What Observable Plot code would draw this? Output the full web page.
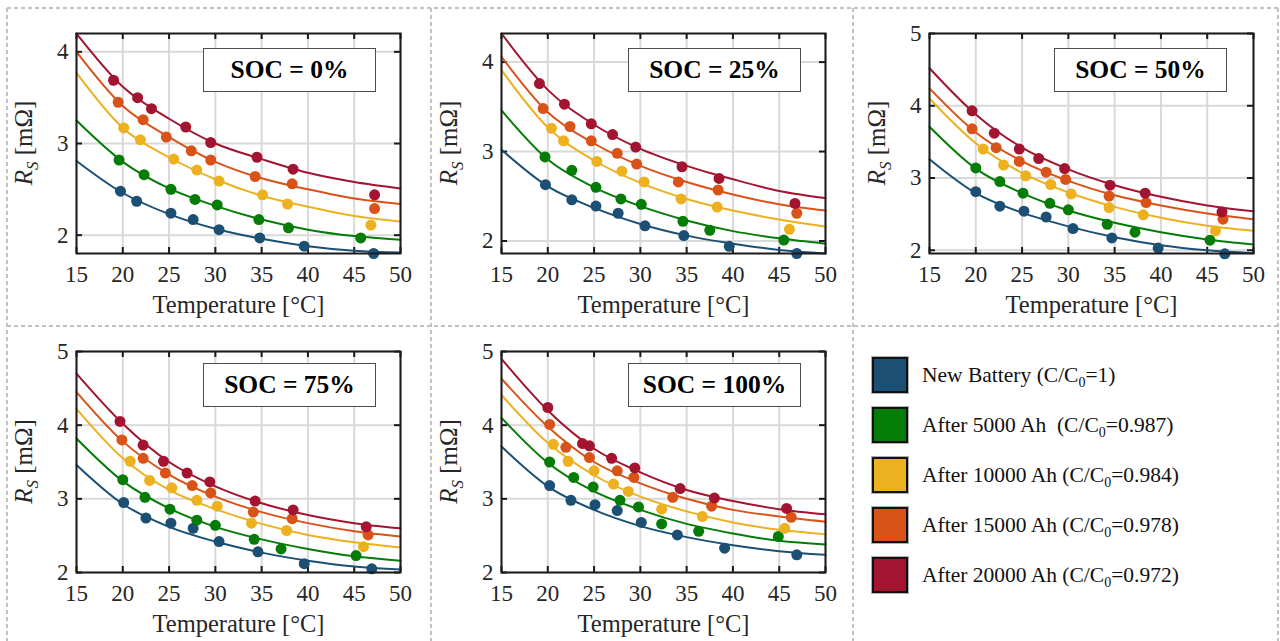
<!DOCTYPE html>
<html><head><meta charset="utf-8">
<script src="https://cdn.jsdelivr.net/npm/d3@7"></script>
<script src="https://cdn.jsdelivr.net/npm/@observablehq/plot@0.6"></script>
<style>
body{margin:0;background:#fff;}
#root{position:relative;width:1280px;height:641px;overflow:hidden;background:#fff;font-family:"Liberation Serif","Times New Roman",serif;}
.panel{position:absolute;}
.soc{position:absolute;width:173px;height:44px;border:1.5px solid #4d4d4d;background:#fff;box-sizing:border-box;font-weight:bold;font-size:25.5px;display:flex;align-items:center;justify-content:center;color:#000;font-family:"Liberation Serif",serif;}
.sw{position:absolute;width:36px;height:36px;box-sizing:border-box;border:2.5px solid #111;outline:1px solid #b0b0b0;}
.lt{position:absolute;height:36px;line-height:36px;font-size:21.5px;color:#111;white-space:pre;font-family:"Liberation Serif",serif;}
.lt .sb{font-size:14px;position:relative;top:5px;}
</style></head>
<body><div id="root"></div>
<script>
// ---------- data ----------
const series = ["New Battery (C/C0=1)", "After 5000 Ah  (C/C0=0.987)", "After 10000 Ah (C/C0=0.984)", "After 15000 Ah (C/C0=0.978)", "After 20000 Ah (C/C0=0.972)"];
const seriesColors = ["#1b5074", "#047c05", "#edb120", "#d95319", "#a2142f"];
const xTicks = [15, 20, 25, 30, 35, 40, 45, 50];
const fitT = [15, 20, 25, 30, 35, 40, 45, 50];
const socTitles = ["SOC = 0%", "SOC = 25%", "SOC = 50%", "SOC = 75%", "SOC = 100%"];

// SOC = 0%
const soc0_T = [
  [19.75, 21.5, 25.2, 27.6, 30.4, 34.8, 39.6, 47.1],
  [19.6, 22.3, 25.2, 27.8, 30.2, 34.7, 37.9, 45.7],
  [20.1, 21.9, 25.5, 28.0, 30.4, 35.1, 37.8, 46.8],
  [19.5, 22.2, 24.7, 27.4, 29.5, 34.3, 38.3, 47.2],
  [19.0, 21.6, 23.1, 26.8, 29.5, 34.5, 38.4, 47.2]];
const soc0_R = [
  [2.48, 2.37, 2.24, 2.17, 2.06, 1.97, 1.88, 1.80],
  [2.82, 2.66, 2.50, 2.39, 2.33, 2.17, 2.08, 1.97],
  [3.17, 3.04, 2.83, 2.71, 2.59, 2.44, 2.34, 2.11],
  [3.45, 3.26, 3.07, 2.92, 2.82, 2.64, 2.56, 2.29],
  [3.69, 3.50, 3.38, 3.18, 3.01, 2.85, 2.72, 2.44]];
const soc0_fit = [
  [2.81, 2.46, 2.23, 2.07, 1.96, 1.88, 1.83, 1.81],
  [3.25, 2.80, 2.51, 2.32, 2.17, 2.06, 1.99, 1.95],
  [3.77, 3.17, 2.85, 2.61, 2.43, 2.31, 2.21, 2.15],
  [4.00, 3.41, 3.07, 2.80, 2.62, 2.50, 2.40, 2.34],
  [4.20, 3.62, 3.27, 3.00, 2.83, 2.68, 2.58, 2.51]];

// SOC = 25%
const soc25_T = [
  [19.75, 22.6, 25.2, 27.6, 30.5, 34.7, 39.6, 46.9],
  [19.7, 22.6, 25.2, 27.9, 30.1, 34.6, 37.5, 45.5],
  [20.4, 21.7, 25.3, 28.0, 30.4, 34.4, 38.3, 46.1],
  [19.5, 22.4, 24.7, 27.5, 29.6, 34.1, 38.4, 46.9],
  [19.1, 21.8, 24.7, 27.0, 29.5, 34.5, 38.5, 46.7]];
const soc25_R = [
  [2.63, 2.46, 2.39, 2.31, 2.17, 2.06, 1.94, 1.86],
  [2.94, 2.79, 2.60, 2.47, 2.41, 2.22, 2.12, 2.01],
  [3.26, 3.12, 2.89, 2.78, 2.66, 2.47, 2.38, 2.13],
  [3.48, 3.28, 3.12, 2.98, 2.86, 2.66, 2.57, 2.31],
  [3.76, 3.53, 3.31, 3.19, 3.05, 2.83, 2.70, 2.42]];
const soc25_fit = [
  [3.02, 2.61, 2.37, 2.19, 2.06, 1.97, 1.90, 1.86],
  [3.46, 2.91, 2.60, 2.39, 2.23, 2.11, 2.03, 1.97],
  [3.91, 3.27, 2.90, 2.65, 2.47, 2.34, 2.24, 2.16],
  [4.06, 3.44, 3.09, 2.84, 2.66, 2.52, 2.41, 2.34],
  [4.32, 3.69, 3.30, 3.03, 2.84, 2.69, 2.56, 2.48]];

// SOC = 50%
const soc50_T = [
  [20.0, 22.6, 25.2, 27.6, 30.5, 34.7, 39.7, 46.9],
  [20.0, 22.6, 25.1, 28.0, 30.0, 34.2, 37.2, 45.3],
  [20.8, 23.0, 25.4, 28.1, 30.3, 34.4, 38.1, 45.9],
  [19.6, 22.2, 24.7, 27.6, 29.7, 34.4, 38.4, 46.7],
  [19.6, 22.0, 24.7, 26.8, 29.6, 34.5, 38.3, 46.6]];
const soc50_R = [
  [2.81, 2.61, 2.54, 2.46, 2.30, 2.17, 2.03, 1.95],
  [3.14, 2.95, 2.79, 2.65, 2.56, 2.36, 2.25, 2.14],
  [3.40, 3.18, 3.03, 2.91, 2.78, 2.59, 2.49, 2.27],
  [3.68, 3.42, 3.23, 3.08, 2.98, 2.75, 2.66, 2.43],
  [3.93, 3.62, 3.40, 3.27, 3.13, 2.90, 2.79, 2.53]];
const soc50_fit = [
  [3.26, 2.79, 2.52, 2.33, 2.18, 2.07, 2.00, 1.96],
  [3.71, 3.13, 2.79, 2.55, 2.38, 2.25, 2.15, 2.08],
  [4.10, 3.48, 3.07, 2.80, 2.60, 2.45, 2.34, 2.27],
  [4.24, 3.63, 3.23, 2.96, 2.76, 2.62, 2.51, 2.43],
  [4.52, 3.88, 3.42, 3.12, 2.90, 2.74, 2.62, 2.54]];

// SOC = 75%
const soc75_T = [
  [20.1, 22.5, 25.2, 27.6, 30.4, 34.6, 39.6, 46.9],
  [20.0, 22.4, 25.1, 28.0, 30.0, 34.2, 37.1, 45.2],
  [20.8, 22.9, 25.3, 28.0, 30.2, 33.9, 37.7, 46.0],
  [19.9, 22.2, 24.6, 27.5, 29.5, 34.1, 38.3, 46.5],
  [19.7, 22.2, 24.4, 26.95, 29.4, 34.3, 38.4, 46.3]];
const soc75_R = [
  [2.95, 2.74, 2.67, 2.60, 2.42, 2.28, 2.12, 2.05],
  [3.26, 3.02, 2.86, 2.71, 2.64, 2.45, 2.32, 2.23],
  [3.51, 3.25, 3.15, 2.98, 2.90, 2.67, 2.57, 2.35],
  [3.80, 3.55, 3.35, 3.18, 3.08, 2.82, 2.73, 2.51],
  [4.05, 3.73, 3.51, 3.35, 3.23, 2.97, 2.85, 2.62]];
const soc75_fit = [
  [3.46, 2.93, 2.62, 2.42, 2.27, 2.16, 2.08, 2.04],
  [3.82, 3.24, 2.87, 2.62, 2.45, 2.32, 2.22, 2.16],
  [4.22, 3.55, 3.12, 2.86, 2.66, 2.51, 2.41, 2.34],
  [4.45, 3.78, 3.33, 3.03, 2.82, 2.67, 2.56, 2.49],
  [4.70, 4.02, 3.50, 3.17, 2.94, 2.78, 2.67, 2.60]];

// SOC = 100%
const soc100_T = [
  [20.2, 22.5, 25.1, 27.5, 30.1, 34.0, 39.1, 46.9],
  [20.2, 22.8, 24.9, 27.8, 29.8, 32.3, 36.3, 44.9],
  [20.6, 22.2, 25.0, 27.1, 28.7, 32.3, 36.7, 45.6],
  [20.2, 21.95, 24.5, 27.5, 29.3, 33.5, 37.7, 46.3],
  [20.0, 23.75, 24.5, 26.9, 29.4, 34.3, 38.0, 45.8]];
const soc100_R = [
  [3.18, 2.98, 2.92, 2.84, 2.68, 2.51, 2.33, 2.24],
  [3.50, 3.29, 3.16, 2.98, 2.89, 2.66, 2.56, 2.49],
  [3.74, 3.51, 3.38, 3.20, 3.10, 2.86, 2.76, 2.60],
  [4.01, 3.70, 3.56, 3.38, 3.29, 3.02, 2.90, 2.75],
  [4.24, 3.75, 3.72, 3.55, 3.42, 3.14, 3.01, 2.87]];
const soc100_fit = [
  [3.71, 3.17, 2.85, 2.63, 2.48, 2.37, 2.29, 2.24],
  [4.10, 3.49, 3.10, 2.85, 2.66, 2.53, 2.43, 2.38],
  [4.41, 3.76, 3.32, 3.03, 2.83, 2.68, 2.58, 2.52],
  [4.63, 3.98, 3.50, 3.21, 3.00, 2.85, 2.76, 2.69],
  [4.90, 4.20, 3.68, 3.36, 3.12, 2.97, 2.86, 2.79]];

const yTicksA = [2, 3, 4];
const yTicksB = [2, 3, 4, 5];

// ---------- layout ----------
const FONT = "Liberation Serif, Times New Roman, serif";
const INK = "#262626";
const root = d3.select("#root");

// dashed cell borders
const bg = root.append("svg").attr("width", 1280).attr("height", 641)
  .style("position", "absolute").style("left", 0).style("top", 0);
const dash = {stroke: "#c2c2c2", "stroke-width": 2, "stroke-dasharray": "4 3"};
function dl(x1, y1, x2, y2) {
  const l = bg.append("line").attr("x1", x1).attr("y1", y1).attr("x2", x2).attr("y2", y2);
  for (const k in dash) l.attr(k, dash[k]);
}
dl(7, 8, 1278, 8); dl(7, 326, 1278, 326);
dl(7, 8, 7, 641); dl(431, 8, 431, 641); dl(853, 8, 853, 641); dl(1278, 8, 1278, 641);

const panels = [
  {T: soc0_T, R: soc0_R, F: soc0_fit, left: 76, top: 33, h: 220, yd: [1.8, 4.2], yt: yTicksA, bx: 203, by: 48},
  {T: soc25_T, R: soc25_R, F: soc25_fit, left: 501, top: 33, h: 220, yd: [1.86, 4.32], yt: yTicksA, bx: 628, by: 48},
  {T: soc50_T, R: soc50_R, F: soc50_fit, left: 929, top: 33, h: 220, yd: [1.955, 5], yt: yTicksB, bx: 1054, by: 48},
  {T: soc75_T, R: soc75_R, F: soc75_fit, left: 76, top: 351, h: 221, yd: [2, 5], yt: yTicksB, bx: 203, by: 363},
  {T: soc100_T, R: soc100_R, F: soc100_fit, left: 501, top: 351, h: 221, yd: [2, 5], yt: yTicksB, bx: 628, by: 363}
];

const W = 324, mL = 76, mR = 20, mT = 12, mB = 70;

panels.forEach((p, i) => {
  const pts = [], fits = [];
  series.forEach((s, k) => {
    p.T[k].forEach((t, j) => pts.push({T: t, R: p.R[k][j], s}));
    fitT.forEach((t, j) => fits.push({T: t, R: p.F[k][j], s}));
  });
  const H = p.h;
  const marks = [
    Plot.gridX(xTicks, {stroke: "#d9d9d9", strokeOpacity: 1, strokeWidth: 2}),
    Plot.gridY(p.yt, {stroke: "#d9d9d9", strokeOpacity: 1, strokeWidth: 2}),
    Plot.tickX(xTicks, {x: d => d, insetBottom: H - 6, stroke: "#1a1a1a", strokeWidth: 2}),
    Plot.tickX(xTicks, {x: d => d, insetTop: H - 6, stroke: "#1a1a1a", strokeWidth: 2}),
    Plot.tickY(p.yt, {y: d => d, insetRight: W - 6, stroke: "#1a1a1a", strokeWidth: 2}),
    Plot.tickY(p.yt, {y: d => d, insetLeft: W - 6, stroke: "#1a1a1a", strokeWidth: 2}),
    Plot.line(fits, {x: "T", y: "R", z: "s", stroke: "s", strokeWidth: 2, curve: "monotone-x"}),
    Plot.dot(pts, {x: "T", y: "R", fill: "s", r: 5.5}),
    Plot.frame({stroke: "#1a1a1a", strokeWidth: 2}),
    Plot.axisX(xTicks, {tickSize: 0, tickPadding: 12, fontSize: 23, fontFamily: FONT, fill: INK, label: null, tickFormat: d => String(d)}),
    Plot.axisY(p.yt, {tickSize: 0, tickPadding: 8, fontSize: 23, fontFamily: FONT, fill: INK, label: null, tickFormat: d => String(d)}),
    Plot.text(["Temperature [°C]"], {text: d => d, frameAnchor: "bottom", dy: 52, lineAnchor: "middle", fontSize: 24.5, fontFamily: FONT, fill: INK})
  ];
  const svg = Plot.plot({
    width: mL + W + mR, height: mT + H + mB,
    marginLeft: mL, marginRight: mR, marginTop: mT, marginBottom: mB,
    x: {domain: [15, 50], axis: null},
    y: {domain: p.yd, axis: null},
    color: {domain: series, range: seriesColors},
    style: {background: "transparent", overflow: "visible"},
    marks
  });
  // y label with subscript
  const t = d3.select(svg).append("text")
    .attr("transform", `translate(${mL - 44},${mT + H / 2}) rotate(-90)`)
    .attr("text-anchor", "middle").attr("font-family", FONT).attr("font-size", 25).attr("fill", INK);
  t.append("tspan").attr("font-style", "italic").text("R");
  t.append("tspan").attr("font-style", "italic").attr("font-size", 17).attr("dy", 6).text("S");
  t.append("tspan").attr("dy", -6).text(" [mΩ]");

  const div = root.append("div").attr("class", "panel")
    .style("left", (p.left - mL) + "px").style("top", (p.top - mT) + "px");
  div.node().appendChild(svg);
  root.append("div").attr("class", "soc").style("left", p.bx + "px").style("top", p.by + "px").text(socTitles[i]);
});

// legend
series.forEach((s, k) => {
  const y = 357 + 50 * k;
  root.append("div").attr("class", "sw").style("left", "872px").style("top", y + "px").style("background", seriesColors[k]);
  const parts = s.split("C0");
  const lt = root.append("div").attr("class", "lt").style("left", "922px").style("top", y + "px");
  lt.html(parts[0] + "C<span class=\"sb\">0</span>" + parts[1]);
});
</script></body></html>
